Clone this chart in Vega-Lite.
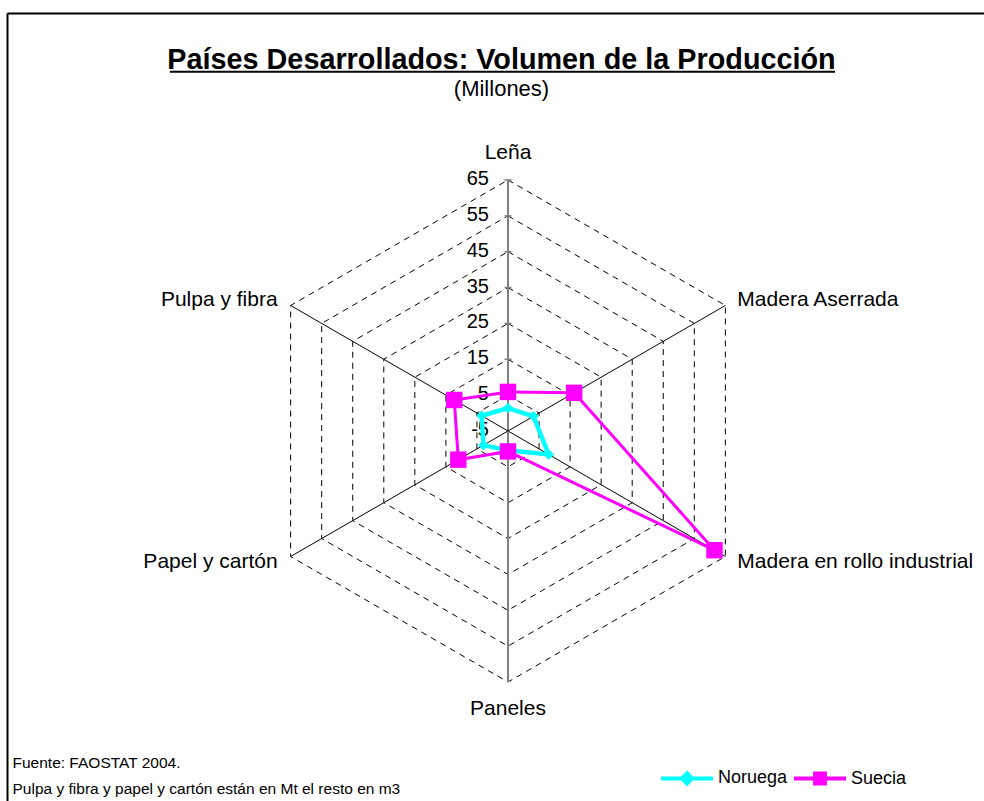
{
  "$schema": "https://vega.github.io/schema/vega-lite/v6.json",
  "autosize": "none",
  "width": 977,
  "height": 788,
  "padding": {"left": 7, "top": 13, "right": 0, "bottom": 0},
  "background": "white",
  "config": {"font": "Liberation Sans", "view": {"stroke": null}},
  "title": {
    "text": "Países Desarrollados: Volumen de la Producción",
    "subtitle": "(Millones)",
    "font": "Liberation Sans",
    "fontSize": 28.8,
    "fontWeight": "bold",
    "color": "black",
    "subtitleFont": "Liberation Sans",
    "subtitleFontSize": 22,
    "subtitleColor": "black",
    "subtitlePadding": 4,
    "anchor": "middle",
    "dx": 6,
    "dy": 91
  },
  "datasets": {
    "produccion": [
      {"pais": "Noruega", "categoria": "Leña", "valor": 1.4},
      {"pais": "Noruega", "categoria": "Madera Aserrada", "valor": 3.2},
      {"pais": "Noruega", "categoria": "Madera en rollo industrial", "valor": 8.1},
      {"pais": "Noruega", "categoria": "Paneles", "valor": 0.4},
      {"pais": "Noruega", "categoria": "Papel y cartón", "valor": 2.9},
      {"pais": "Noruega", "categoria": "Pulpa y fibra", "valor": 3.5},
      {"pais": "Suecia", "categoria": "Leña", "valor": 5.9},
      {"pais": "Suecia", "categoria": "Madera Aserrada", "valor": 16.3},
      {"pais": "Suecia", "categoria": "Madera en rollo industrial", "valor": 61.5},
      {"pais": "Suecia", "categoria": "Paneles", "valor": 0.7},
      {"pais": "Suecia", "categoria": "Papel y cartón", "valor": 11.0},
      {"pais": "Suecia", "categoria": "Pulpa y fibra", "valor": 12.3}
    ],
    "ejes": [
      {"categoria": "Leña"},
      {"categoria": "Madera Aserrada"},
      {"categoria": "Madera en rollo industrial"},
      {"categoria": "Paneles"},
      {"categoria": "Papel y cartón"},
      {"categoria": "Pulpa y fibra"}
    ],
    "anillos": [
      {"v": -5}, {"v": 5}, {"v": 15}, {"v": 25}, {"v": 35}, {"v": 45}, {"v": 55}, {"v": 65}
    ],
    "subrayado": [
      {"desde": -94.3, "hasta": 91.2, "altura": 100.2}
    ]
  },
  "encoding": {
    "x": {
      "field": "x", "type": "quantitative",
      "scale": {"domain": [-139.72, 132.75], "nice": false, "zero": false},
      "axis": {"orient": "top", "domain": true, "domainColor": "black", "domainWidth": 2, "ticks": false, "labels": false, "grid": false, "title": null}
    },
    "y": {
      "field": "y", "type": "quantitative",
      "scale": {"domain": [-103.19, 116.57], "nice": false, "zero": false},
      "axis": {
        "orient": "left", "domain": true, "domainColor": "black", "domainWidth": 2, "ticks": false, "labels": false, "grid": false,
        "title": ["Fuente: FAOSTAT 2004.", "Pulpa y fibra y papel y cartón están en Mt el resto en m3"],
        "titleAngle": 0, "titleAlign": "left", "titleBaseline": "alphabetic", "titleX": 5, "titleY": 754,
        "titleFont": "Liberation Sans", "titleFontSize": 15.5, "titleFontWeight": "normal", "titleColor": "black", "titleLineHeight": 26
      }
    }
  },
  "layer": [
    {
      "data": {"name": "anillos"},
      "transform": [
        {"filter": "datum.v > -5"},
        {"calculate": "[0,1,2,3,4,5]", "as": "k"},
        {"flatten": ["k"]},
        {"calculate": "(datum.v + 5) * sin(datum.k * PI / 3)", "as": "x"},
        {"calculate": "(datum.v + 5) * cos(datum.k * PI / 3)", "as": "y"}
      ],
      "mark": {"type": "line", "interpolate": "linear-closed", "color": "black", "strokeWidth": 1, "strokeDash": [6, 5]},
      "encoding": {"detail": {"field": "v", "type": "nominal"}, "order": {"field": "k", "type": "quantitative"}}
    },
    {
      "data": {"name": "ejes"},
      "transform": [
        {"calculate": "indexof(['Leña','Madera Aserrada','Madera en rollo industrial','Paneles','Papel y cartón','Pulpa y fibra'], datum.categoria)", "as": "k"},
        {"calculate": "70 * sin(datum.k * PI / 3)", "as": "x"},
        {"calculate": "70 * cos(datum.k * PI / 3)", "as": "y"}
      ],
      "mark": {"type": "rule"},
      "encoding": {
        "x2": {"datum": 0},
        "y2": {"datum": 0},
        "color": {"condition": {"test": "datum.k % 3 == 0", "value": "#808080"}, "value": "black"},
        "strokeWidth": {"condition": {"test": "datum.k % 3 == 0", "value": 2}, "value": 1}
      }
    },
    {
      "data": {"name": "anillos"},
      "transform": [
        {"filter": "datum.v > -5"},
        {"calculate": "0", "as": "x"},
        {"calculate": "datum.v + 5", "as": "y"}
      ],
      "mark": {"type": "tick", "orient": "horizontal", "size": 7, "thickness": 1.5, "color": "#808080", "opacity": 1}
    },
    {
      "data": {"name": "anillos"},
      "transform": [
        {"calculate": "0", "as": "x"},
        {"calculate": "datum.v + 5", "as": "y"},
        {"calculate": "'' + datum.v", "as": "etiqueta"}
      ],
      "mark": {"type": "text", "align": "right", "baseline": "middle", "dx": -19, "dy": -1, "fontSize": 20, "color": "black", "font": "Liberation Sans"},
      "encoding": {"text": {"field": "etiqueta", "type": "nominal"}}
    },
    {
      "data": {"name": "produccion"},
      "transform": [
        {"calculate": "indexof(['Leña','Madera Aserrada','Madera en rollo industrial','Paneles','Papel y cartón','Pulpa y fibra'], datum.categoria)", "as": "k"},
        {"calculate": "(datum.valor + 5) * sin(datum.k * PI / 3)", "as": "x"},
        {"calculate": "(datum.valor + 5) * cos(datum.k * PI / 3)", "as": "y"}
      ],
      "layer": [
        {
          "transform": [{"filter": "datum.pais == 'Noruega'"}],
          "mark": {"type": "line", "interpolate": "linear-closed", "color": "#00FFFF", "strokeWidth": 4.5},
          "encoding": {"order": {"field": "k", "type": "quantitative"}}
        },
        {
          "transform": [{"filter": "datum.pais == 'Noruega'"}],
          "mark": {"type": "point", "shape": "diamond", "size": 110, "filled": true, "color": "#00FFFF", "opacity": 1}
        },
        {
          "transform": [{"filter": "datum.pais == 'Suecia'"}],
          "mark": {"type": "line", "interpolate": "linear-closed", "color": "#FF00FF", "strokeWidth": 3},
          "encoding": {"order": {"field": "k", "type": "quantitative"}}
        },
        {
          "transform": [{"filter": "datum.pais == 'Suecia'"}],
          "mark": {"type": "point", "shape": "square", "size": 270, "filled": true, "color": "#FF00FF", "opacity": 1}
        },
        {
          "transform": [{"filter": "false"}],
          "mark": {"type": "point", "filled": true, "opacity": 1, "strokeWidth": 4},
          "encoding": {
            "fill": {
              "field": "pais", "type": "nominal",
              "scale": {"domain": ["Noruega", "Suecia"], "range": ["#00FFFF", "#FF00FF"]},
              "legend": {
                "orient": "none", "legendX": 652, "legendY": 737, "direction": "horizontal", "title": null,
                "symbolSize": 2704, "symbolStrokeWidth": 4, "labelFontSize": 18, "labelFont": "Liberation Sans",
                "labelColor": "black", "labelOffset": 3, "columnPadding": -2, "padding": 0
              }
            },
            "stroke": {
              "field": "pais", "type": "nominal",
              "scale": {"domain": ["Noruega", "Suecia"], "range": ["#00FFFF", "#FF00FF"]},
              "legend": {"title": null}
            },
            "shape": {
              "field": "pais", "type": "nominal",
              "scale": {"domain": ["Noruega", "Suecia"], "range": ["M-1,0L1,0M0,-0.2L0.19,0L0,0.2L-0.19,0Z", "M-1,0L1,0M-0.19,-0.19L0.19,-0.19L0.19,0.19L-0.19,0.19Z"]},
              "legend": {"title": null}
            }
          }
        }
      ]
    },
    {
      "data": {"name": "ejes"},
      "transform": [
        {"calculate": "indexof(['Leña','Madera Aserrada','Madera en rollo industrial','Paneles','Papel y cartón','Pulpa y fibra'], datum.categoria)", "as": "k"}
      ],
      "layer": [
        {
          "transform": [
            {"filter": "datum.k % 3 == 0"},
            {"calculate": "77.5 * sin(datum.k * PI / 3)", "as": "x"},
            {"calculate": "77.5 * cos(datum.k * PI / 3)", "as": "y"}
          ],
          "mark": {"type": "text", "align": "center", "baseline": "middle", "fontSize": 21, "color": "black", "font": "Liberation Sans"},
          "encoding": {"text": {"field": "categoria", "type": "nominal"}}
        },
        {
          "transform": [
            {"filter": "datum.k == 1 || datum.k == 2"},
            {"calculate": "70 * sin(datum.k * PI / 3)", "as": "x"},
            {"calculate": "73 * cos(datum.k * PI / 3)", "as": "y"}
          ],
          "mark": {"type": "text", "align": "left", "baseline": "middle", "dx": 12, "fontSize": 21, "color": "black", "font": "Liberation Sans"},
          "encoding": {"text": {"field": "categoria", "type": "nominal"}}
        },
        {
          "transform": [
            {"filter": "datum.k == 4 || datum.k == 5"},
            {"calculate": "70 * sin(datum.k * PI / 3)", "as": "x"},
            {"calculate": "73 * cos(datum.k * PI / 3)", "as": "y"}
          ],
          "mark": {"type": "text", "align": "right", "baseline": "middle", "dx": -13, "fontSize": 21, "color": "black", "font": "Liberation Sans"},
          "encoding": {"text": {"field": "categoria", "type": "nominal"}}
        }
      ]
    },
    {
      "data": {"name": "subrayado"},
      "mark": {"type": "rule", "color": "black", "strokeWidth": 2},
      "encoding": {
        "x": {"field": "desde", "type": "quantitative"},
        "x2": {"field": "hasta"},
        "y": {"field": "altura", "type": "quantitative"}
      }
    }
  ]
}
